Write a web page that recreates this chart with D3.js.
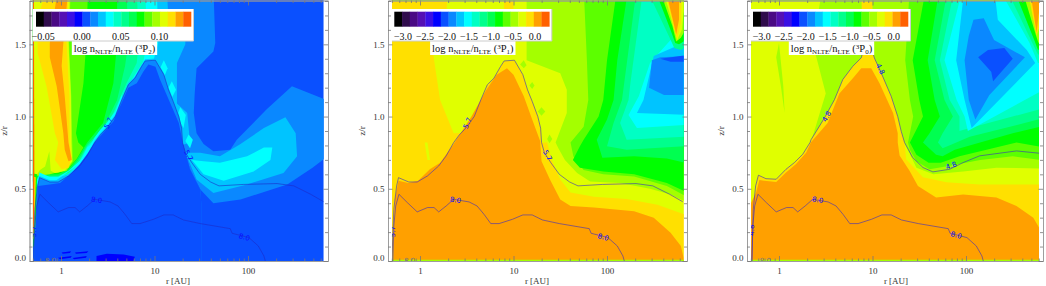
<!DOCTYPE html>
<html>
<head>
<meta charset="utf-8">
<script src="https://cdn.jsdelivr.net/npm/d3@7"></script>
<style>
  html, body { margin: 0; padding: 0; background: #fff; }
  svg { display: block; }
  text { font-family: "Liberation Serif", serif; }
</style>
</head>
<body>
<div id="chart"></div>
<script>
// colour levels of the bar, lowest first
var barColors = ["#000000", "#300c4c", "#4a0a84", "#5410b4", "#3a10e4", "#0000ff", "#0a50ff", "#0a88ff",
  "#00c4ff", "#00ffff", "#00ffc4", "#00ff8c", "#00ff50", "#00ff00", "#5cff00", "#a4ff00", "#e0ff00",
  "#ffe000", "#ffa000", "#ff6000"];

var rTicks = [1, 10, 100];
var rMinorTicks = [0.5, 0.6, 0.7, 0.8, 0.9, 2, 3, 4, 5, 6, 7, 8, 9, 20, 30, 40, 50, 60, 70, 80, 90, 200, 300, 400, 500, 600];
var zTicks = [0, 0.5, 1, 1.5];
var zMinorTicks = [0.1, 0.2, 0.3, 0.4, 0.6, 0.7, 0.8, 0.9, 1.1, 1.2, 1.3, 1.4, 1.6, 1.7, 1.8];

var barTicks1 = [-0.05, 0, 0.05, 0.10];
var barTicks23 = [-3, -2.5, -2, -1.5, -1, -0.5, 0];
var subLabels = ["2", "1", "0"];

// contour lines, [log10 r, z/r]
var contour57 = [[-.30,0],[-.29,.196],[-.28,.358],[-.25,.52],[-.23,.577],[-.12,.547],[-.03,.547],[.08,.589],[.20,.658],
  [.28,.728],[.36,.82],[.42,.873],[.49,.92],[.58,1.0],[.65,1.115],[.72,1.22],[.79,1.265],[.86,1.345],[.90,1.385],[1.01,1.39],
  [1.10,1.29],[1.15,1.185],[1.20,1.105],[1.26,1.0],[1.29,.92],[1.30,.82],[1.33,.75],[1.40,.68],[1.49,.60],[1.60,.547],
  [1.69,.52],[1.95,.53],[2.31,.536],[2.49,.52],[2.67,.462],[2.81,.41]];
var contour80 = [[-.29,0],[-.28,.243],[-.26,.381],[-.225,.462],[-.135,.404],[-.03,.34],[.08,.37],[.15,.37],[.20,.34],[.28,.381],
  [.36,.427],[.525,.409],[.61,.381],[.685,.323],[.757,.259],[.846,.259],[.99,.289],[1.10,.319],[1.20,.319],[1.31,.284],
  [1.49,.259],[1.81,.224],[1.83,.192],[2.01,.162],[2.11,.104],[2.17,.035],[2.185,0]];
var contour48 = [[-.29,0],[-.275,.358],[-.25,.52],[-.22,.594],[-.14,.57],[-.03,.566],[.075,.635],[.164,.681],[.254,.739],[.332,.82],
  [.343,.84],[.486,.99],[.593,1.117],[.682,1.256],[.789,1.348],[.879,1.406],[.9,1.45],[1.0,1.45],[1.02,1.406],[1.093,1.302],
  [1.2,1.14],[1.27,1.0],[1.307,.898],[1.343,.82],[1.43,.716],[1.54,.647],[1.646,.617],[1.825,.635],[1.968,.681],[2.146,.728],
  [2.54,.762],[2.818,.744]];

// contour labels: log10 r, z/r, text, angle
var labels12 = [[.507,.955,"5.7",-65],[-.296,.203,"5.7",-90],[1.365,.732,"5.7",60],[.38,.423,"8.0",8],[1.96,.166,"8.0",15],[-.11,.005,"8.0",0]];
var labels3 = [[.51,1.0,"4.8",-60],[1.085,1.33,"4.8",65],[1.84,.66,"4.8",-20],[-.29,.213,"4.8",-90],[.414,.423,"8.0",10],[1.896,.18,"8.0",15],[-.146,.005,"8.0",0]];

var coneEdge = contour57.slice(0, 26);
var coneEdge48 = contour48.slice(0, 24);

// panel 1, painted in order: [level index, outline]
var p1Regions = [
  [7, [[1.63,1.9],[1.65,1.51],[1.63,1.45],[1.45,1.335],[1.43,1.16],[1.42,1.025],[1.45,.885],[1.525,.81],[1.63,.76],[1.81,.77],[1.88,.84],[2.20,1.05],[2.47,1.21],[2.9,1.1],[2.9,.75],[2.69,.645],[2.42,.53],[1.92,.425],[1.63,.40],[1.49,.495],[1.38,.635],[1.30,.82],[.1,.55],[-.4,.5],[-.4,1.9]]],
  [8, [[1.13,1.9],[1.15,1.67],[1.33,1.58],[1.33,1.50],[1.24,1.37],[1.24,1.09],[1.35,1.025],[1.38,.82],[.1,.55],[-.4,.5],[-.4,1.9]]],
  [8, [[1.33,.75],[1.45,.565],[1.63,.47],[1.99,.53],[2.38,.61],[2.525,.725],[2.51,.885],[2.40,.995],[2.17,.92],[1.92,.81],[1.70,.725],[1.49,.75]]],
  [9, [[1.40,.70],[1.525,.60],[1.74,.555],[2.06,.62],[2.24,.70],[2.26,.785],[2.17,.785],[1.99,.725],[1.70,.68],[1.525,.69]]],
  [9, [[1.025,1.9],[1.04,1.51],[.99,1.39],[.9,1.0],[.3,.65],[-.4,.5],[-.4,1.9]]],
  [9, [[1.06,1.335],[1.10,1.39],[1.14,1.335],[1.10,1.27]]],
  [9, [[1.15,1.20],[1.185,1.245],[1.23,1.185],[1.19,1.135]]],
  [9, [[1.24,1.0],[1.275,1.065],[1.335,1.01],[1.31,.92]]],
  [9, [[1.33,.83],[1.365,.875],[1.41,.84],[1.38,.78]]],
  [10, [[.9,1.9],[.92,1.51],[.88,1.38],[.757,1.255],[.6,1.025],[.42,.86],[.28,.785],[.2,.68],[.08,.60],[-.03,.58],[-.225,.58],[-.4,.5],[-.4,1.9]]],
  [11, [[.81,1.9],[.83,1.51],[.81,1.37],[.70,1.23],[.56,1.025],[.42,.885],[.28,.795],[.195,.69],[.08,.61],[-.03,.585],[-.225,.585],[-.4,.5],[-.4,1.9]]],
  [12, [[.70,1.9],[.72,1.51],[.685,1.35],[.6,1.115],[.45,.92],[.28,.805],[.185,.70],[.08,.62],[-.03,.59],[-.225,.59],[-.4,.5],[-.4,1.9]]],
  [13, [[.6,1.9],[.6,1.51],[.56,1.23],[.45,.955],[.28,.82],[.175,.71],[.08,.635],[-.03,.60],[-.225,.60],[-.4,.5],[-.4,1.9]]],
  [14, [[.29,1.9],[.27,1.51],[.24,1.23],[.16,.885],[.185,.82],[.24,.785],[.17,.71],[.08,.64],[-.03,.61],[-.225,.61],[-.4,.6],[-.4,1.9]]],
  [15, [[.105,1.9],[.085,1.51],[.11,1.14],[.12,.82],[.125,.69],[.06,.625],[-.065,.61],[-.12,.60],[-.245,.59],[-.4,.6],[-.4,1.9]]],
  [16, [[.095,1.9],[.08,1.51],[.105,1.14],[.11,.82],[.12,.69],[.04,.625],[-.065,.61],[-.11,.625],[-.125,.76],[-.17,.655],[-.225,.63],[-.255,.60],[-.4,.6],[-.4,1.9]]],
  [17, [[-.155,1.9],[.08,1.9],[.06,1.51],[.09,1.14],[.09,.82],[.115,.715],[.08,.645],[.007,.635],[-.065,.70],[-.03,.82],[-.065,.885],[-.155,1.21],[-.25,1.44],[-.25,1.51],[-.24,1.69]]],
  [18, [[-.03,1.9],[.08,1.9],[.025,1.51],[.007,1.35],[.04,1.14],[.08,.82],[.115,.70],[.08,.69],[.04,.77],[.025,.885],[-.046,1.21],[-.12,1.41],[-.12,1.51]]],
  // cone of the disk, rim then inside
  [9, coneEdge.slice(0, 15).map(function(d) { return [d[0], d[1] + .035]; }).concat([[.7,.9],[-.4,.4]])],
  [8, coneEdge.map(function(d) { return [d[0], d[1] + .012]; }).concat([[1.1,.6],[-.3,.3]])],
  [7, coneEdge.concat([[1.38,.635],[1.49,.495],[1.5,.4],[1.5,0]])],
  [6, [[-.285,0],[-.28,.13],[-.245,.52],[-.12,.53],[-.01,.54],[.115,.61],[.20,.67],[.29,.75],[.36,.82],[.56,.965],[.72,1.2],[.81,1.23],[.88,1.31],[.935,1.36],[1.01,1.345],[1.06,1.255],[1.17,1.09],[1.26,.955],[1.29,.86],[1.30,.82],[1.38,.635],[1.49,.495],[1.5,.4],[1.5,0]]],
  // left edge sliver
  [13, [[-.4,.62],[-.255,.6],[-.27,.3],[-.29,.1],[-.4,.1]]],
  [17, [[-.4,.6],[-.27,.58],[-.28,.3],[-.295,.15],[-.4,.15]]],
  [19, [[-.4,1.9],[-.29,1.9],[-.285,.6],[-.288,.3],[-.3,.15],[-.4,.15]]],
  // darker patches by the midplane
  [5, [[.38,.035],[.49,.05],[.67,.045],[.79,.03],[.775,0],[.38,0]]],
  [5, [[.007,.058],[.107,.067],[.096,.055],[.018,.05]]],
  [5, [[.15,.058],[.293,.067],[.275,.055],[.16,.05]]],
  [5, [[-.03,.023],[.114,.035],[.104,.023],[-.01,.012]]],
  [5, [[.125,.021],[.275,.035],[.268,.023],[.14,.012]]]
];

var edgeStrip = [[-.4,0],[2.9,0],[2.9,.008],[-.4,.008]];
var topStrip = [[-.4,1.8],[2.9,1.8],[2.9,1.9],[-.4,1.9]];

// panel 2
var p2Regions = [
  [16, [[.30,1.9],[.285,1.74],[.125,1.5],[.215,1.115],[.36,.885],[.9,.9],[1.4,.3],[2.9,.3],[2.9,1.9]]],
  [17, [[.89,1.9],[1.0,1.9],[1.0,1.74],[.9,1.74]]],
  [15, [[1.14,1.9],[1.14,1.39],[1.5,1.30],[1.57,1.185],[1.57,1.025],[1.45,.82],[1.48,.78],[1.55,.70],[1.68,.61],[1.82,.55],[2.14,.54],[2.46,.50],[2.68,.46],[2.84,.41],[2.9,.40],[2.9,1.9]]],
  [14, [[1.75,1.9],[1.785,1.39],[1.80,1.115],[1.75,.93],[1.61,.82],[1.64,.725],[1.75,.63],[1.96,.60],[2.29,.585],[2.64,.52],[2.84,.45],[2.9,.44],[2.9,1.9]]],
  [13, [[2.11,1.9],[2.0,1.39],[1.96,1.115],[1.91,1.0],[1.75,.84],[1.71,.795],[1.635,.70],[1.71,.645],[1.96,.62],[2.29,.60],[2.64,.54],[2.84,.48],[2.9,.47],[2.9,1.9]]],
  [12, [[2.23,1.9],[2.11,1.39],[2.07,1.115],[2.0,.98],[1.89,.84],[1.95,.715],[2.29,.725],[2.64,.71],[2.84,.68],[2.9,.67],[2.9,1.9]]],
  [11, [[2.32,1.9],[2.16,1.115],[2.07,.955],[2.0,.795],[2.21,.77],[2.84,.795],[2.9,.8],[2.9,1.9]]],
  [10, [[2.39,1.9],[2.25,1.23],[2.23,1.115],[2.14,.955],[2.21,.84],[2.84,.86],[2.9,.86],[2.9,1.9]]],
  [9, [[2.68,1.53],[2.46,1.37],[2.34,1.14],[2.23,1.01],[2.32,.92],[2.9,.945],[2.9,1.53]]],
  [8, [[2.75,1.49],[2.5,1.42],[2.39,1.115],[2.32,1.025],[2.9,1.01],[2.9,1.49]]],
  [7, [[2.9,1.42],[2.57,1.41],[2.48,1.39],[2.45,1.20],[2.61,1.15],[2.9,1.15]]],
  [6, [[2.57,1.40],[2.9,1.43],[2.9,1.38],[2.68,1.38]]],
  [11, [[2.41,1.9],[2.66,1.56],[2.72,1.475],[2.79,1.46],[2.9,1.5],[2.9,1.9]]],
  [13, [[2.5,1.9],[2.68,1.60],[2.73,1.51],[2.77,1.50],[2.9,1.55],[2.9,1.9]]],
  [15, [[2.55,1.9],[2.70,1.625],[2.74,1.52],[2.79,1.545],[2.9,1.67],[2.9,1.9]]],
  [16, [[2.59,1.9],[2.72,1.60],[2.75,1.53],[2.8,1.60],[2.82,1.72],[2.9,1.75],[2.9,1.9]]],
  [17, [[2.61,1.9],[2.73,1.58],[2.75,1.54],[2.79,1.65],[2.8,1.9]]],
  [18, [[2.62,1.9],[2.74,1.57],[2.77,1.67],[2.77,1.9]]],
  [15, [[1.07,1.36],[1.11,1.39],[1.14,1.355],[1.11,1.335]]],
  [15, [[1.17,1.215],[1.2,1.24],[1.225,1.215],[1.2,1.19]]],
  [15, [[1.26,1.035],[1.30,1.065],[1.34,1.035],[1.30,1.005]]],
  [15, [[1.36,.845],[1.385,.875],[1.415,.845],[1.385,.815]]],
  [17, coneEdge.concat([[1.36,.82],[1.41,.70],[1.5,.565],[1.61,.475],[1.86,.445],[2.21,.43],[2.54,.39],[2.84,.32],[2.9,.31],[2.9,0],[-.4,0]])],
  [16, [[.05,.82],[.08,.82],[.107,.70],[.08,.70]]],
  [18, [[-.285,0],[-.285,.127],[-.27,.427],[-.23,.555],[-.125,.54],[-.02,.555],[.105,.635],[.215,.68],[.36,.81],[.46,.91],[.55,1.0],[.71,1.185],[.82,1.29],[.93,1.335],[1.0,1.29],[1.11,1.14],[1.2,.98],[1.285,.83],[1.30,.69],[1.39,.565],[1.5,.425],[1.61,.38],[1.86,.37],[2.29,.345],[2.5,.30],[2.68,.196],[2.79,.104],[2.82,.02],[2.82,0]]],
  [15, edgeStrip],
  [15, topStrip]
];

// panel 3
var p3Regions = [
  [15, [[-.03,1.41],[0,1.51],[.046,1.21],[.06,1.025],[.02,1.21]]],
  [15, [[.47,1.9],[.36,1.51],[.50,1.16],[.34,.82],[1.34,.82],[1.47,.645],[1.65,.60],[1.97,.62],[2.325,.645],[2.9,.64],[2.9,1.9]]],
  [17, [[.88,1.9],[1.0,1.9],[1.0,1.74],[.885,1.74]]],
  [14, [[1.4,1.9],[1.35,1.39],[1.40,1.115],[1.435,1.0],[1.38,.82],[1.40,.77],[1.47,.69],[1.61,.635],[1.83,.66],[2.15,.70],[2.5,.725],[2.9,.69],[2.9,1.9]]],
  [13, [[1.575,1.9],[1.43,1.39],[1.50,1.115],[1.54,1.0],[1.45,.885],[1.40,.82],[1.47,.735],[1.60,.68],[1.73,.68],[1.93,.725],[2.22,.77],[2.54,.82],[2.9,.78],[2.9,1.9]]],
  [12, [[1.72,1.9],[1.59,1.39],[1.665,1.115],[1.72,1.0],[1.61,.885],[1.54,.82],[1.68,.735],[1.75,.725],[1.88,.77],[2.15,.82],[2.5,.885],[2.9,.945],[2.9,1.9]]],
  [11, [[1.81,1.9],[1.665,1.39],[1.77,1.115],[1.86,1.0],[1.75,.885],[1.70,.82],[1.75,.78],[1.84,.805],[2.04,.86],[2.9,1.0],[2.9,1.9]]],
  [10, [[1.88,1.9],[1.72,1.39],[1.825,1.115],[1.93,1.0],[1.93,.90],[2.04,.92],[2.9,1.07],[2.9,1.9]]],
  [9, [[1.97,1.9],[1.77,1.39],[1.90,1.115],[1.985,1.0],[2.02,.90],[2.9,1.21],[2.9,1.36],[2.8,1.46],[2.78,1.9]]],
  [8, [[1.985,1.9],[2.3,1.9],[2.34,1.67],[2.65,1.46],[2.74,1.37],[2.06,.92],[1.985,1.115],[1.895,1.39]]],
  [7, [[2.03,1.56],[2.08,1.67],[2.19,1.68],[2.30,1.53],[2.63,1.41],[2.25,1.15],[2.10,.98],[2.03,1.115],[1.985,1.39]]],
  [6, [[2.13,1.41],[2.235,1.46],[2.41,1.475],[2.50,1.40],[2.29,1.245],[2.27,1.31]]],
  [10, [[2.34,1.9],[2.68,1.51],[2.77,1.37],[2.9,1.37],[2.9,1.9]]],
  [11, [[2.42,1.9],[2.71,1.51],[2.77,1.43],[2.9,1.43],[2.9,1.9]]],
  [13, [[2.5,1.9],[2.73,1.53],[2.77,1.46],[2.9,1.51],[2.9,1.9]]],
  [15, [[2.59,1.9],[2.75,1.56],[2.775,1.51],[2.9,1.58],[2.9,1.9]]],
  [17, [[2.65,1.9],[2.755,1.56],[2.79,1.63],[2.8,1.9]]],
  [18, [[2.68,1.9],[2.755,1.58],[2.78,1.72],[2.78,1.9]]],
  [17, coneEdge48.concat([[1.36,.705],[1.54,.58],[1.79,.545],[2.146,.53],[2.9,.53],[2.9,0],[-.4,0]])],
  [18, [[-.3,0],[-.3,.4],[-.245,.474],[-.21,.56],[-.03,.547],[.075,.612],[.18,.67],[.29,.75],[.34,.82],[.52,.955],[.646,1.16],[.79,1.265],[.88,1.335],[.986,1.335],[1.075,1.23],[1.22,1.025],[1.27,.885],[1.27,.82],[1.29,.73],[1.396,.625],[1.486,.52],[1.68,.44],[1.97,.46],[2.325,.44],[2.54,.38],[2.72,.30],[2.9,.10],[2.9,0]]],
  [15, edgeStrip],
  [15, topStrip]
];

var svgWidth = 1046;
var svgHeight = 286;

var svg = d3.select("#chart")
  .append("svg")
  .attr("width", svgWidth)
  .attr("height", svgHeight);

var panels = [
  { frame: [29.5, 328], r1: 61, logEnd: 2.81, base: 6, regions: p1Regions, lines: [contour57, contour80], labels: labels12,
    lineColor: "#1c2cc8", barLeft: 36, barTicks: barTicks1, tickAt: 7.3, tickStep: 38.75 / 0.05, fmt: d3.format(".2f") },
  { frame: [388, 687], r1: 420, logEnd: 2.82, base: 17, regions: p2Regions, lines: [contour57, contour80], labels: labels12,
    lineColor: "#3a2cc0", barLeft: 394.3, barTicks: barTicks23, tickAt: 8.7, tickStep: 44, fmt: d3.format(".1f") },
  { frame: [747, 1043], r1: 779, logEnd: 2.78, base: 16, regions: p3Regions, lines: [contour48, contour80], labels: labels3,
    lineColor: "#3a2cc0", barLeft: 753, barTicks: barTicks23, tickAt: 8.7, tickStep: 44, fmt: d3.format(".1f") }
];

var y = d3.scaleLinear().domain([0, 1.8]).range([261, 1]);
var zoneTop = 0;

panels.forEach(function(p, i) {
  var x = d3.scaleLog().domain([1, 100]).range([p.r1, p.r1 + 187]);
  var g = svg.append("g");

  // field, clipped to the computed grid
  var fieldLeft = x(Math.pow(10, -0.3));
  var fieldRight = x(Math.pow(10, p.logEnd));
  var clipId = "clip" + i;
  svg.append("clipPath").attr("id", clipId).append("rect")
    .attr("x", fieldLeft).attr("y", zoneTop)
    .attr("width", fieldRight - fieldLeft).attr("height", y(0) - zoneTop);

  var field = g.append("g").attr("clip-path", "url(#" + clipId + ")");
  field.append("rect")
    .attr("x", fieldLeft).attr("y", zoneTop)
    .attr("width", fieldRight - fieldLeft).attr("height", y(0) - zoneTop)
    .attr("fill", barColors[p.base]);

  var line = d3.line()
    .x(function(d) { return x(Math.pow(10, d[0])); })
    .y(function(d) { return y(d[1]); });

  field.selectAll(".region")
    .data(p.regions)
    .enter()
    .append("path")
    .attr("class", "region")
    .attr("d", function(d) { return line(d[1]) + "Z"; })
    .attr("fill", function(d) { return barColors[d[0]]; });

  field.selectAll(".contour")
    .data(p.lines)
    .enter()
    .append("path")
    .attr("class", "contour")
    .attr("d", function(d) { return line(d); })
    .attr("fill", "none")
    .attr("stroke", p.lineColor)
    .attr("stroke-opacity", 0.75)
    .attr("stroke-width", 0.8);

  field.selectAll(".clabel")
    .data(p.labels)
    .enter()
    .append("text")
    .attr("class", "clabel")
    .attr("transform", function(d) {
      return "translate(" + x(Math.pow(10, d[0])) + "," + y(d[1]) + ") rotate(" + d[3] + ")";
    })
    .attr("text-anchor", "middle")
    .attr("dy", "0.35em")
    .attr("font-size", "7px")
    .attr("fill", function(d) { return d[1] < 0.01 ? "#777" : "#0a0aff"; })
    .style("font-family", "'DejaVu Sans', sans-serif")
    .text(function(d) { return d[2]; });

  // axes, ticks point into the plot
  var axisColor = "#777";
  function styleAxis(sel) {
    sel.selectAll(".domain").attr("stroke", "#999").attr("stroke-opacity", 0.8);
    sel.selectAll("line").attr("stroke", axisColor).attr("stroke-width", 0.8);
    sel.selectAll("text").attr("fill", "#333").attr("font-size", "9px").style("font-family", "'Liberation Serif', serif");
  }

  var xFrame = d3.scaleLog().domain([x.invert(p.frame[0]), x.invert(p.frame[1])]).range(p.frame);

  g.append("g").attr("transform", "translate(0," + y(0) + ")")
    .call(d3.axisBottom(xFrame).tickValues(rTicks).tickSize(-5).tickSizeOuter(0).tickPadding(6.6).tickFormat(d3.format("d")))
    .call(styleAxis);
  g.append("g").attr("transform", "translate(0," + y(0) + ")")
    .call(d3.axisBottom(xFrame).tickValues(rMinorTicks).tickSize(-2.5).tickSizeOuter(0).tickFormat(""))
    .call(styleAxis);
  g.append("g").attr("transform", "translate(0,0.5)")
    .call(d3.axisTop(xFrame).tickValues(rTicks).tickSize(-5).tickSizeOuter(0).tickFormat(""))
    .call(styleAxis);
  g.append("g").attr("transform", "translate(0,0.5)")
    .call(d3.axisTop(xFrame).tickValues(rMinorTicks).tickSize(-2.5).tickSizeOuter(0).tickFormat(""))
    .call(styleAxis);

  var yFrame = d3.scaleLinear().domain([y.invert(svgHeight - 25), y.invert(0.5)]).range([svgHeight - 25, 0.5]);

  g.append("g").attr("transform", "translate(" + p.frame[0] + ",0)")
    .call(d3.axisLeft(yFrame).tickValues(zTicks).tickSize(-4.5).tickSizeOuter(0).tickPadding(3.5).tickFormat(d3.format(".1f")))
    .call(styleAxis)
    .selectAll("text").filter(function(d) { return d === 0; }).attr("dy", "-0.05em");
  g.append("g").attr("transform", "translate(" + p.frame[0] + ",0)")
    .call(d3.axisLeft(yFrame).tickValues(zMinorTicks).tickSize(-3).tickSizeOuter(0).tickFormat(""))
    .call(styleAxis);
  g.append("g").attr("transform", "translate(" + p.frame[1] + ",0)")
    .call(d3.axisRight(yFrame).tickValues(zTicks).tickSize(-4.5).tickSizeOuter(0).tickFormat(""))
    .call(styleAxis);
  g.append("g").attr("transform", "translate(" + p.frame[1] + ",0)")
    .call(d3.axisRight(yFrame).tickValues(zMinorTicks).tickSize(-3).tickSizeOuter(0).tickFormat(""))
    .call(styleAxis);

  // axis titles
  g.append("text")
    .attr("x", p.r1 + 117)
    .attr("y", 284)
    .attr("text-anchor", "middle")
    .attr("font-size", "9px")
    .attr("fill", "#333")
    .text("r [AU]");
  g.append("text")
    .attr("transform", "translate(" + (p.frame[0] - 23) + ",131) rotate(-90)")
    .attr("text-anchor", "middle")
    .attr("font-size", "9px")
    .attr("fill", "#333")
    .text("z/r");

  // colour bar box
  var barWidth = 155;
  var barScale = d3.scaleBand().domain(d3.range(barColors.length)).range([p.barLeft, p.barLeft + barWidth]);
  var boxLeft = fieldLeft;
  var boxRight = p.barLeft + barWidth + 2.5;

  var labelGroup = g.append("g");

  g.append("rect")
    .attr("x", boxLeft).attr("y", 9)
    .attr("width", boxRight - boxLeft).attr("height", 32)
    .attr("fill", "#fff");
  g.append("path")
    .attr("d", "M" + boxRight + ",9V41H" + boxLeft)
    .attr("fill", "none").attr("stroke", "#ccc");

  g.selectAll(".barcell")
    .data(barColors)
    .enter()
    .append("rect")
    .attr("class", "barcell")
    .attr("x", function(d, k) { return barScale(k); })
    .attr("y", 11.7)
    .attr("width", barScale.bandwidth() + 0.3)
    .attr("height", 15)
    .attr("fill", function(d) { return d; });

  var barTickScale = d3.scaleLinear()
    .domain([p.barTicks[0], p.barTicks[p.barTicks.length - 1]])
    .range([p.barLeft + p.tickAt,
      p.barLeft + p.tickAt + (p.barTicks[p.barTicks.length - 1] - p.barTicks[0]) * p.tickStep]);

  g.selectAll(".bartick")
    .data(p.barTicks)
    .enter()
    .append("text")
    .attr("class", "bartick")
    .attr("x", function(d) { return barTickScale(d); })
    .attr("y", 39.6)
    .attr("text-anchor", "middle")
    .attr("font-size", "10px")
    .attr("fill", "#111")
    .text(function(d) { return p.fmt(d); });

  // label under the bar, with its own white backing
  var labelX = p.barLeft + barWidth / 2 + 1;
  var label = labelGroup.append("text")
    .attr("x", labelX)
    .attr("y", 52)
    .attr("text-anchor", "middle")
    .attr("font-size", "10.5px")
    .attr("fill", "#111");
  label.append("tspan").text("log n");
  label.append("tspan").attr("dy", 2).attr("font-size", "7px").text("NLTE");
  label.append("tspan").attr("dy", -2).text("/n");
  label.append("tspan").attr("dy", 2).attr("font-size", "7px").text("LTE");
  label.append("tspan").attr("dy", -2).text(" (");
  label.append("tspan").attr("dy", -3).attr("font-size", "7px").text("3");
  label.append("tspan").attr("dy", 3).text("P");
  label.append("tspan").attr("dy", 2).attr("font-size", "7px").text(subLabels[i]);
  label.append("tspan").attr("dy", -2).text(")");

  var labelWidth = label.node().getComputedTextLength();
  labelGroup.insert("rect", "text")
    .attr("x", labelX - labelWidth / 2 - 2)
    .attr("y", 41)
    .attr("width", labelWidth + 4)
    .attr("height", 14)
    .attr("fill", "#fff");
});
</script>
</body>
</html>
